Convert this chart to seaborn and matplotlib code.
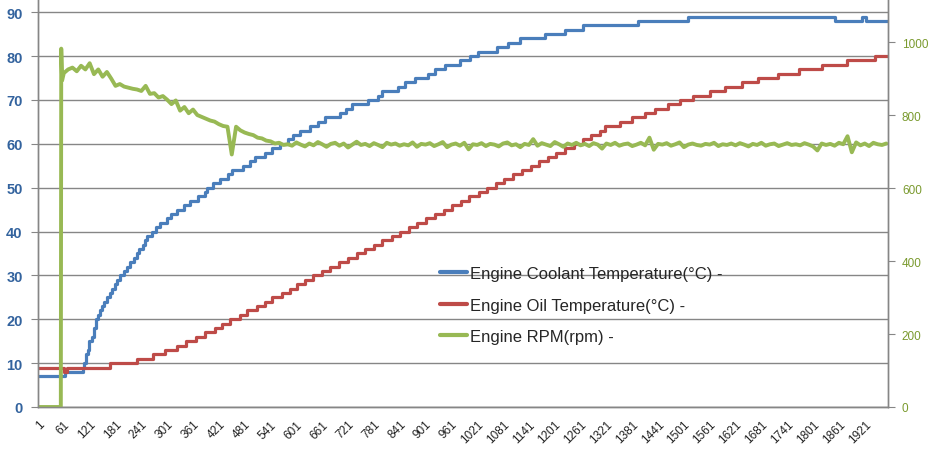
import numpy as np
import pandas as pd
import matplotlib
matplotlib.use("Agg")
import matplotlib.pyplot as plt
import seaborn as sns

# Coolant temperature: sample where the value changes, and the new value
coolant_x = [1, 64, 105, 108, 112, 117, 119, 126, 131, 136, 140, 145, 150, 154, 161, 168,
             173, 180, 184, 191, 200, 208, 215, 224, 231, 236, 245, 249, 254, 266, 275, 284,
             301, 310, 324, 340, 354, 372, 389, 393, 407, 424, 442, 451, 477, 493, 505, 528,
             544, 563, 582, 593, 609, 633, 651, 667, 702, 716, 730, 767, 790, 800, 837, 853,
             876, 907, 923, 946, 981, 1004, 1023, 1067, 1092, 1120, 1178, 1225, 1266, 1394,
             1510, 1852, 1914, 1924, 1975]
coolant_val = [7, 8, 9, 10, 12, 13, 15, 16, 18, 20, 21, 22, 23, 24, 25, 26,
               27, 28, 29, 30, 31, 32, 33, 34, 35, 36, 37, 38, 39, 40, 41, 42,
               43, 44, 45, 46, 47, 48, 49, 50, 51, 52, 53, 54, 55, 56, 57, 58,
               59, 60, 61, 62, 63, 64, 65, 66, 67, 68, 69, 70, 71, 72, 73, 74,
               75, 76, 77, 78, 79, 80, 81, 82, 83, 84, 85, 86, 87, 88,
               89, 88, 89, 88, 88]

# Oil temperature steps
oil_x = [1, 62, 68, 168, 231, 268, 296, 324, 345, 368, 389, 412, 428, 447, 470, 486, 510,
         528, 544, 568, 586, 602, 621, 640, 660, 680, 700, 720, 741, 761, 781, 801, 822,
         842, 862, 882, 902, 923, 943, 963, 983, 1003, 1024, 1044, 1064, 1084, 1104, 1125,
         1145, 1165, 1185, 1205, 1226, 1246, 1266, 1286, 1306, 1318, 1352, 1380, 1410, 1434,
         1464, 1492, 1522, 1561, 1596, 1636, 1673, 1719, 1768, 1822, 1880, 1944, 1975]
oil_val = [9, 8, 9, 10, 11, 12, 13, 14, 15, 16, 17, 18, 19, 20, 21, 22, 23,
           24, 25, 26, 27, 28, 29, 30, 31, 32, 33, 34, 35, 36, 37, 38, 39,
           40, 41, 42, 43, 44, 45, 46, 47, 48, 49, 50, 51, 52, 53, 54,
           55, 56, 57, 58, 59, 60, 61, 62, 63, 64, 65, 66, 67, 68,
           69, 70, 71, 72, 73, 74, 75, 76, 77, 78, 79, 80, 80]

# Engine RPM: start-up, then one reading every 10 samples from 61
rpm_start_x = [1, 54, 55, 57]
rpm_start_val = [0, 0, 982, 895]
rpm_steady = [
    915, 925, 930, 920, 935, 925, 942, 912, 925, 905,
    918, 900, 880, 885, 878, 875, 872, 870, 866, 880,
    858, 860, 848, 852, 842, 830, 840, 812, 822, 805,
    815, 800, 795, 790, 785, 782, 775, 770, 768, 692,
    768, 758, 752, 748, 745, 738, 736, 730, 728, 722,
    724, 718, 720, 716, 725, 719, 714, 722, 717, 726,
    720, 713, 721, 724, 716, 722, 711, 719, 727, 718,
    721, 715, 723, 718, 712, 724, 719, 722, 716, 720,
    717, 725, 713, 721, 719, 723, 715, 720, 726, 712,
    719, 722, 716, 724, 706, 720, 718, 723, 715, 721,
    719, 714, 722, 725, 717, 720, 712, 721, 718, 734,
    716, 723, 719, 715, 726, 720, 713, 722, 718, 724,
    717, 721, 715, 723, 719, 708, 722, 718, 724, 716,
    720, 722, 715, 719, 724, 717, 738, 705, 721, 719,
    723, 716, 720, 725, 712, 719, 722, 718, 716, 721,
    719, 724, 715, 720, 718, 722, 717, 723, 719, 714,
    721, 718, 724, 716, 720, 722, 715, 719, 723, 718,
    720, 717, 723, 719, 714, 703, 722, 718, 721, 716,
    724, 720, 742, 698, 725, 717, 722, 715, 724, 720,
    718, 722]
rpm_steady_x = list(range(61, 61 + 10 * len(rpm_steady), 10))

x_ticks = list(range(1, 1922, 60))
left_ticks = list(range(0, 91, 10))
right_ticks = list(range(0, 1001, 200))

labels = ["Engine Coolant Temperature(\u00b0C) -",
          "Engine Oil Temperature(\u00b0C) -",
          "Engine RPM(rpm) -"]
c_blue, c_red, c_green = "#4A7EBB", "#BE4B48", "#98B954"
grey = "#868686"

sns.set_style("white")
plt.rcParams["font.family"] = ["Liberation Sans", "DejaVu Sans"]

coolant_df = pd.DataFrame({"t": coolant_x, "v": coolant_val})
oil_df = pd.DataFrame({"t": oil_x, "v": oil_val})
rpm_df = pd.DataFrame({"t": rpm_start_x + rpm_steady_x, "v": rpm_start_val + rpm_steady})

fig = plt.figure(figsize=(9.31, 4.52), dpi=100)
ax = fig.add_axes([38 / 931, 44 / 452, 850 / 931, 408 / 452])
ax2 = ax.twinx()

sns.lineplot(data=coolant_df, x="t", y="v", ax=ax, color=c_blue, lw=2.3,
             drawstyle="steps-post", estimator=None)
sns.lineplot(data=oil_df, x="t", y="v", ax=ax, color=c_red, lw=2.3,
             drawstyle="steps-post", estimator=None)
sns.lineplot(data=rpm_df, x="t", y="v", ax=ax2, color=c_green, lw=2.8, estimator=None)

ax.set_xlim(1, 1975)
ax.set_ylim(0, 93)
ax2.set_ylim(0, 1118)

ax.set_yticks(left_ticks)
ax.set_yticklabels([str(v) for v in left_ticks], fontsize=10.5, fontweight="bold",
                   color="#33639E")
ax2.set_yticks(right_ticks)
ax2.set_yticklabels([str(v) for v in right_ticks], fontsize=8.5, color="#7A9A2E")
ax.set_xticks(x_ticks)
ax.set_xticklabels([str(v) for v in x_ticks], rotation=45, ha="right",
                   rotation_mode="anchor", fontsize=8.5, color="#222222")

ax.grid(axis="y", color=grey, lw=1)
ax.set_axisbelow(True)
ax.set_xlabel("")
ax.set_ylabel("")
ax2.set_ylabel("")

for a in (ax, ax2):
    for s in a.spines.values():
        s.set_color(grey)
        s.set_linewidth(1)
    a.spines["top"].set_visible(False)

ax.tick_params(axis="x", direction="out", length=5, color=grey, pad=3)
ax.tick_params(axis="y", direction="out", length=5, color=grey, pad=6)
ax2.tick_params(axis="y", direction="out", length=5, color=grey, pad=5)

handles = [plt.Line2D([], [], color=c, lw=3) for c in (c_blue, c_red, c_green)]
ax2.legend(handles, labels, loc="upper left", bbox_to_anchor=(0.465, 0.362),
           frameon=False, fontsize=12, handlelength=1.6, handletextpad=0.2,
           labelspacing=1.0, borderaxespad=0)

fig.savefig("out.png", dpi=100)
